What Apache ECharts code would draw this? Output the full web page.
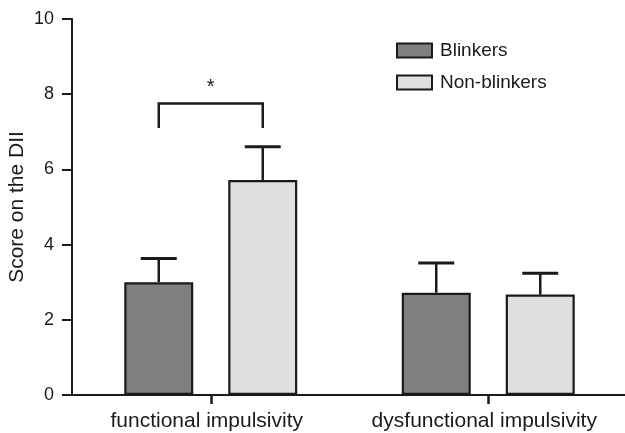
<!DOCTYPE html>
<html>
<head>
<meta charset="utf-8">
<script src="https://cdn.jsdelivr.net/npm/echarts@6/dist/echarts.min.js"></script>
<style>html,body{margin:0;padding:0;background:#fff}#c{width:625px;height:433px}</style>
</head>
<body>
<div id="c"></div>
<script>
const categories = ['functional impulsivity', 'dysfunctional impulsivity'];
const seriesNames = ['Blinkers', 'Non-blinkers'];
const blinkers = [3.0, 2.72];
const nonBlinkers = [5.72, 2.67];
const blinkersUpper = [3.63, 3.51];
const nonBlinkersUpper = [6.6, 3.24];
const yTicks = [0, 2, 4, 6, 8, 10];
// significance bracket on category 0
const sigCategory = [0];
const sigLevel = [7.75];
const sigEnd = [7.1];
const sigStarLevel = [8.17];
const sigLabel = ['*'];

const FONT = "'Liberation Sans', Arial, Helvetica, sans-serif";
const INK = '#1a1a1a';
const BAR_W = 69;
const BAR_GAP = 35;
const OFFSET = (BAR_W + BAR_GAP) / 2;
const CAP = 36;

function errorSeries(means, uppers, sign) {
  return {
    type: 'custom',
    z: 5,
    silent: true,
    data: means.map((m, i) => [i, m, uppers[i]]),
    renderItem: function (params, api) {
      const top = api.coord([api.value(0), api.value(2)]);
      const base = api.coord([api.value(0), api.value(1)]);
      const x = top[0] + sign * OFFSET;
      return {
        type: 'group',
        children: [
          { type: 'line', shape: { x1: x, y1: base[1], x2: x, y2: top[1] }, style: { stroke: INK, lineWidth: 2.5 } },
          { type: 'line', shape: { x1: x - CAP / 2, y1: top[1], x2: x + CAP / 2, y2: top[1] }, style: { stroke: INK, lineWidth: 3 } }
        ]
      };
    }
  };
}

const chart = echarts.init(document.getElementById('c'), null, { renderer: 'canvas' });
chart.setOption({
  animation: false,
  backgroundColor: '#fff',
  textStyle: { fontFamily: FONT },
  grid: { left: 72, top: 19, bottom: 38, width: 555, containLabel: false, outerBoundsMode: 'none' },
  legend: {
    orient: 'vertical',
    left: 396,
    top: 41,
    padding: 0,
    itemWidth: 35,
    itemHeight: 14,
    itemGap: 13,
    icon: 'rect',
    textStyle: { fontFamily: FONT, fontSize: 19, color: INK, lineHeight: 18, padding: [0, 0, 0, 3] },
    data: seriesNames
  },
  xAxis: {
    type: 'category',
    data: categories,
    axisLine: { show: true, lineStyle: { color: INK, width: 2 } },
    axisTick: { show: true, alignWithLabel: true, interval: 0, length: 9, lineStyle: { color: INK, width: 2.5 } },
    axisLabel: { show: true, interval: 0, fontFamily: FONT, fontSize: 21, color: INK, margin: 16, padding: [0, 8, 0, 0] },
    splitLine: { show: false }
  },
  yAxis: {
    type: 'value',
    min: yTicks[0],
    max: yTicks[yTicks.length - 1],
    interval: yTicks[1] - yTicks[0],
    name: 'Score on the DII',
    nameLocation: 'middle',
    nameGap: 44,
    nameMoveOverlap: false,
    nameTextStyle: { fontFamily: FONT, fontSize: 21, color: INK },
    axisLine: { show: true, lineStyle: { color: INK, width: 2 } },
    axisTick: { show: true, length: 10, lineStyle: { color: INK, width: 2 } },
    axisLabel: { fontFamily: FONT, fontSize: 18, color: INK, margin: 18 },
    splitLine: { show: false }
  },
  series: [
    {
      name: seriesNames[0],
      type: 'bar',
      data: blinkers,
      barWidth: BAR_W,
      barGap: (BAR_GAP / BAR_W * 100).toFixed(1) + '%',
      itemStyle: { color: '#7f7f7f', borderColor: INK, borderWidth: 2.2 }
    },
    {
      name: seriesNames[1],
      type: 'bar',
      data: nonBlinkers,
      barWidth: BAR_W,
      barGap: (BAR_GAP / BAR_W * 100).toFixed(1) + '%',
      itemStyle: { color: '#dfdfdf', borderColor: INK, borderWidth: 2.2 }
    },
    errorSeries(blinkers, blinkersUpper, -1),
    errorSeries(nonBlinkers, nonBlinkersUpper, 1),
    {
      type: 'custom',
      z: 5,
      silent: true,
      data: sigCategory.map((c, i) => [c, sigLevel[i], sigEnd[i], sigStarLevel[i]]),
      renderItem: function (params, api) {
        const lv = api.coord([api.value(0), api.value(1)]);
        const en = api.coord([api.value(0), api.value(2)]);
        const st = api.coord([api.value(0), api.value(3)]);
        const xl = lv[0] - OFFSET, xr = lv[0] + OFFSET;
        return {
          type: 'group',
          children: [
            { type: 'polyline', shape: { points: [[xl, en[1]], [xl, lv[1]], [xr, lv[1]], [xr, en[1]]] }, style: { stroke: INK, lineWidth: 2.5, fill: null } },
            { type: 'text', style: { text: sigLabel[params.dataIndex], x: st[0], y: st[1], align: 'center', verticalAlign: 'middle', font: '20px ' + FONT, fill: INK } }
          ]
        };
      }
    }
  ]
});
</script>
</body>
</html>
